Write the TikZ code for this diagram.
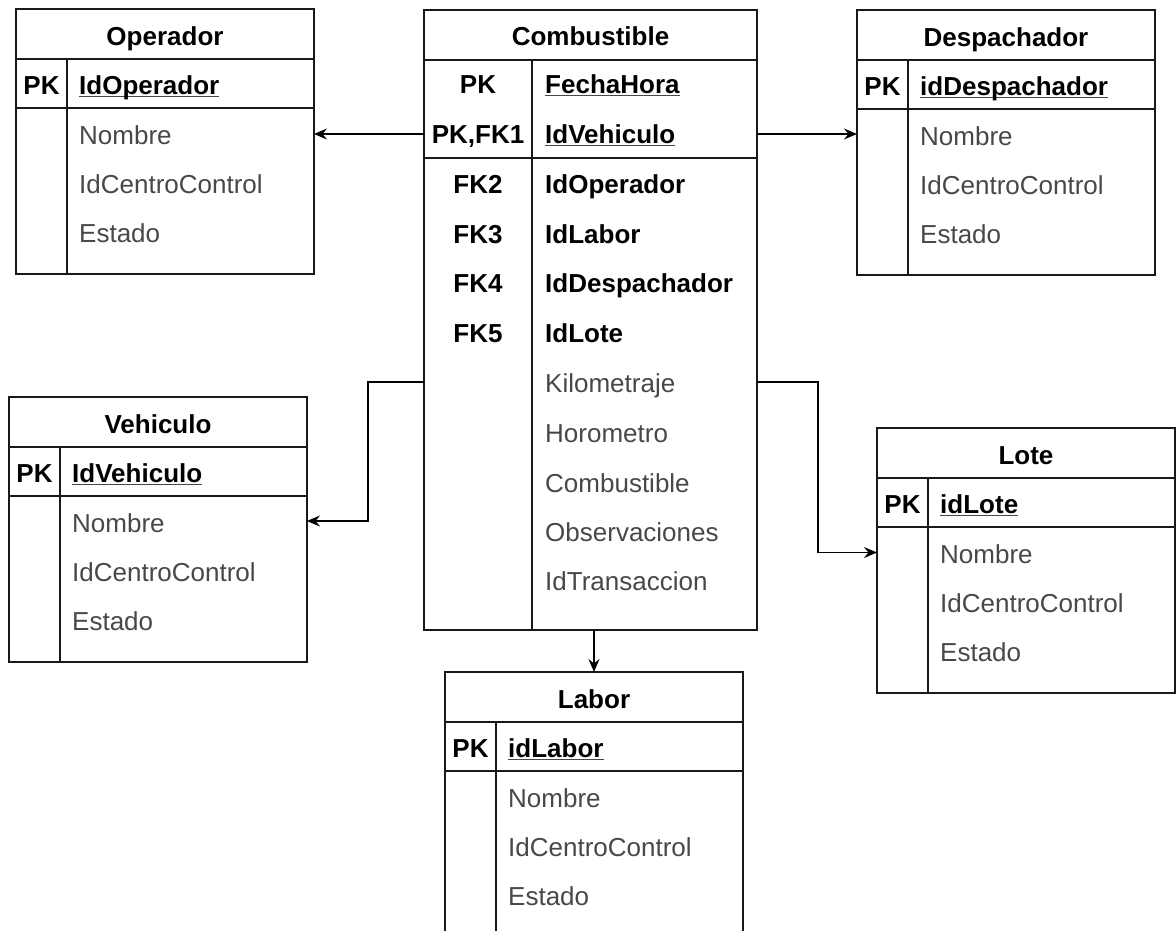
\documentclass[tikz,border=0pt]{standalone}
\usepackage{fontspec}
\setmainfont{Liberation Sans}
\usetikzlibrary{calc,arrows.meta}

\definecolor{fieldgray}{RGB}{72,72,72}
\definecolor{edge}{RGB}{25,25,25}

% base text size of the diagram
\newcommand\fs{\fontsize{26}{30}\selectfont}
% key field: underline at a fixed depth, independent of descenders
\newcommand\keyul[1]{\setbox0=\hbox{#1}\rlap{\color{fieldgray}\rule[-0.13em]{\wd0}{0.055em}}\box0}

\tikzset{
  tbl/.style={draw=edge, line width=1.3pt, inner sep=0pt, outer sep=0pt, minimum width=298pt},
  rule/.style={draw=edge, line width=1.3pt},
  ttl/.style={font=\fs\bfseries, anchor=base, inner sep=0pt, text=black},
  key/.style={font=\fs\bfseries, anchor=base, inner sep=0pt, text=black},
  pkf/.style={font=\fs\bfseries, anchor=base west, inner sep=0pt, text=black},
  fkf/.style={font=\fs\bfseries, anchor=base west, inner sep=0pt, text=black},
  fld/.style={font=\fs, anchor=base west, inner sep=0pt, text=fieldgray},
  conn/.style={draw=black, line width=1.3pt, -{Stealth[length=13pt,width=11pt,inset=4.5pt]}},
}

% entity with one primary key and three plain attributes
\newcommand\ertable[5]{%
  \node[tbl, minimum height=265pt, anchor=north west] (#1) at (#2,#3) {};
  \draw[rule] ($(#1.north west)+(0,50)$) -- ($(#1.north east)+(0,50)$);
  \draw[rule] ($(#1.north west)+(0,99)$) -- ($(#1.north east)+(0,99)$);
  \draw[rule] ($(#1.north west)+(51,50)$) -- ($(#1.south west)+(51,0)$);
  \node[ttl] (#1-t) at ($(#1.north)+(0,36)$) {#4};
  \node[key] (#1-k) at ($(#1.north west)+(25.5,85)$) {PK};
  \node[pkf] (#1-pk) at ($(#1.north west)+(63,85)$) {\keyul{#5}};
  \node[fld] (#1-f1) at ($(#1.north west)+(63,135)$) {Nombre};
  \node[fld] (#1-f2) at ($(#1.north west)+(63,184)$) {IdCentroControl};
  \node[fld] (#1-f3) at ($(#1.north west)+(63,233)$) {Estado};
}

\begin{document}
\begin{tikzpicture}[x=1pt, y=-1pt]
  \path[use as bounding box, fill=white] (0,0) rectangle (1176,930);
  \clip (0,0) rectangle (1176,930);

  % --- central entity ---
  \node[tbl, minimum width=333pt, minimum height=620pt, anchor=north west] (comb) at (424,10) {};
  \draw[rule] (424,60) -- (757,60);
  \draw[rule] (424,158) -- (757,158);
  \draw[rule] (532,60) -- (532,630);
  \node[ttl] (comb-t) at (590.5,45) {Combustible};
  \node[key] (comb-k1) at (478,93) {PK};
  \node[key] (comb-k2) at (478,143) {PK,FK1};
  \node[key] (comb-k3) at (478,193) {FK2};
  \node[key] (comb-k4) at (478,243) {FK3};
  \node[key] (comb-k5) at (478,292) {FK4};
  \node[key] (comb-k6) at (478,342) {FK5};
  \node[pkf] (comb-a1) at (545,93) {\keyul{FechaHora}};
  \node[pkf] (comb-a2) at (545,143) {\keyul{IdVehiculo}};
  \node[fkf] (comb-a3) at (545,193) {IdOperador};
  \node[fkf] (comb-a4) at (545,243) {IdLabor};
  \node[fkf] (comb-a5) at (545,292) {IdDespachador};
  \node[fkf] (comb-a6) at (545,342) {IdLote};
  \node[fld] (comb-a7) at (545,392) {Kilometraje};
  \node[fld] (comb-a8) at (545,442) {Horometro};
  \node[fld] (comb-a9) at (545,492) {Combustible};
  \node[fld] (comb-a10) at (545,541) {Observaciones};
  \node[fld] (comb-a11) at (545,590) {IdTransaccion};

  % --- referenced entities ---
  \ertable{op}{16}{9}{Operador}{IdOperador}
  \ertable{desp}{857}{10}{Despachador}{idDespachador}
  \ertable{veh}{9}{397}{Vehiculo}{IdVehiculo}
  \ertable{lote}{877}{428}{Lote}{idLote}
  \ertable{lab}{445}{672}{Labor}{idLabor}

  % --- relationship connectors ---
  \coordinate (cL1) at ($(comb.north west)+(0,124)$);
  \coordinate (cR1) at ($(comb.north east)+(0,124)$);
  \coordinate (cL2) at ($(comb.north west)+(0,372)$);
  \coordinate (cR2) at ($(comb.north east)+(0,372)$);
  \coordinate (vehIn) at ([yshift=8.5pt]veh.east);
  \coordinate (loteIn) at ([yshift=8pt]lote.west);

  \draw[conn] (cL1) -- (cL1 -| op.east);
  \draw[conn] (cR1) -- (cR1 -| desp.west);
  \draw[conn] (cL2) -- (cL2 -| 368,0) |- (vehIn);
  \draw[conn] (cR2) -- (cR2 -| 818,0) |- (loteIn);
  \draw[conn] (comb.south -| lab.north) -- (lab.north);
\end{tikzpicture}
\end{document}
